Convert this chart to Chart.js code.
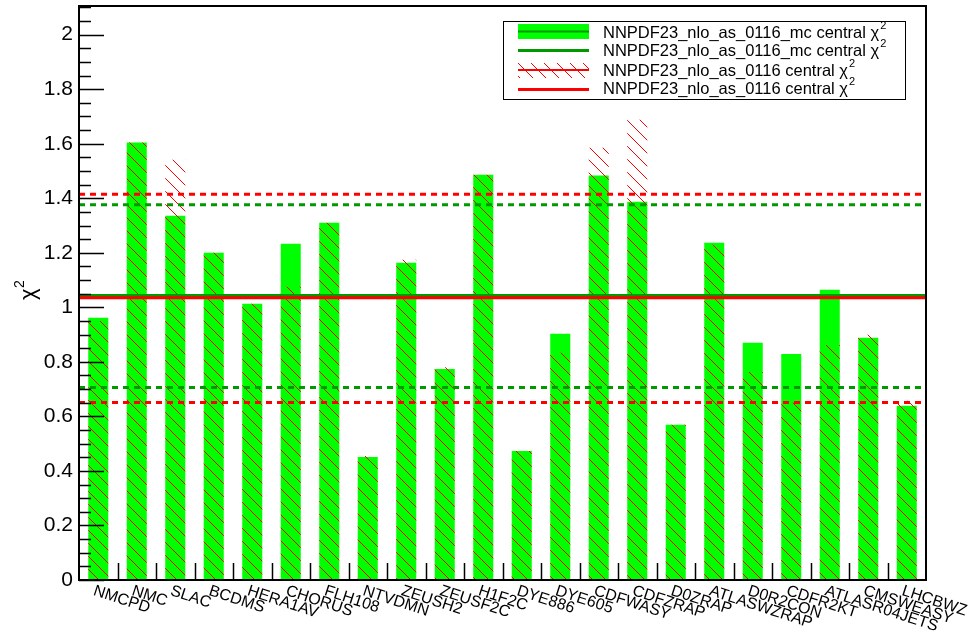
<!DOCTYPE html>
<html>
<head>
<meta charset="utf-8">
<script src="https://cdn.jsdelivr.net/npm/chart.js@4.4.0/dist/chart.umd.min.js"></script>
<style>
  html, body { margin: 0; padding: 0; background: #fff; }
  #chartBox { width: 969px; height: 634px; }
</style>
</head>
<body>
<div id="chartBox"><canvas id="chi2Chart" width="969" height="634"></canvas></div>
<script>
// data
const experiments = ['NMCPD', 'NMC', 'SLAC', 'BCDMS', 'HERA1AV', 'CHORUS', 'FLH108', 'NTVDMN',
  'ZEUSH2', 'ZEUSF2C', 'H1F2C', 'DYE886', 'DYE605', 'CDFWASY', 'CDFZRAP', 'D0ZRAP',
  'ATLASWZRAP', 'D0R2CON', 'CDFR2KT', 'ATLASR04JETS', 'CMSWEASY', 'LHCBWZ'];
const mcChi2 = [0.962, 1.604, 1.336, 1.200, 1.013, 1.233, 1.310, 0.451, 1.163, 0.774, 1.486,
  0.473, 0.903, 1.483, 1.387, 0.569, 1.237, 0.870, 0.829, 1.064, 0.888, 0.639];
const refChi2 = [0.950, 1.604, 1.541, 1.200, 1.013, 1.075, 1.310, 0.455, 1.174, 0.780, 1.486,
  0.473, 0.833, 1.585, 1.688, 0.569, 1.229, 0.763, 0.650, 0.862, 0.899, 0.657];
const mcTotal = 1.043;
const mcBand = [0.706, 1.376];
const refTotal = 1.035;
const refBand = [0.651, 1.415];
const yTicks = [0, 0.2, 0.4, 0.6, 0.8, 1, 1.2, 1.4, 1.6, 1.8, 2];
const yMax = 2.105;

const mcName = 'NNPDF23_nlo_as_0116_mc central \u03c7';
const refName = 'NNPDF23_nlo_as_0116 central \u03c7';
const barGreen = '#00ff00';
const lineGreen = '#009900';
const red = '#ff0000';
const font = '"Liberation Sans", Arial, Helvetica, sans-serif';

function makeHatch() {
  const size = 13;
  const tile = document.createElement('canvas');
  tile.width = size;
  tile.height = size;
  const tctx = tile.getContext('2d');
  tctx.fillStyle = red;
  for (let i = 0; i < size; i++) {
    tctx.fillRect(i, i, 1, 1);
  }
  return tctx.createPattern(tile, 'repeat');
}

const hatch = makeHatch();

function flatLine(value) {
  return [{ x: 0, y: value }, { x: experiments.length, y: value }];
}

function lineSet(value, color, dashed, order) {
  return {
    type: 'line',
    xAxisID: 'xl',
    data: flatLine(value),
    borderColor: color,
    borderWidth: 3,
    borderDash: dashed ? [6, 5] : [],
    pointRadius: 0,
    fill: false,
    order: order
  };
}

// text with a raised small "2", like ROOT's #chi^{2}
function drawChi2Text(ctx, text, x, y) {
  ctx.font = '16.5px ' + font;
  ctx.fillText(text, x, y);
  const w = ctx.measureText(text).width;
  ctx.font = '11px ' + font;
  ctx.fillText('2', x + w + 1, y - 7);
}

const rootFrame = {
  id: 'rootFrame',
  afterDraw(chart) {
    const { ctx, chartArea: area, scales } = chart;
    const x = scales.x;
    const y = scales.y;
    ctx.save();

    // frame
    ctx.strokeStyle = '#000';
    ctx.lineWidth = 2;
    ctx.strokeRect(area.left, area.top, area.right - area.left, area.bottom - area.top);

    // y ticks, major and minor
    ctx.lineWidth = 1.5;
    ctx.beginPath();
    for (let k = 0; k * 0.05 <= yMax; k++) {
      const py = Math.round(y.getPixelForValue(k * 0.05)) + 0.5;
      const len = k % 4 === 0 ? 25 : 12;
      ctx.moveTo(area.left, py);
      ctx.lineTo(area.left + len, py);
    }
    ctx.stroke();

    // x bin boundaries
    ctx.beginPath();
    for (let i = 1; i < experiments.length; i++) {
      const px = Math.round((x.getPixelForValue(i - 1) + x.getPixelForValue(i)) / 2) + 0.5;
      ctx.moveTo(px, area.bottom);
      ctx.lineTo(px, area.bottom - 17);
    }
    ctx.stroke();

    // slanted category labels
    ctx.fillStyle = '#000';
    ctx.font = '16px ' + font;
    ctx.textAlign = 'left';
    ctx.textBaseline = 'top';
    experiments.forEach((name, i) => {
      ctx.save();
      ctx.translate(x.getPixelForValue(i) - 2, area.bottom + 3);
      ctx.rotate(18 * Math.PI / 180);
      ctx.fillText(name, 0, 0);
      ctx.restore();
    });

    // y title
    ctx.save();
    ctx.textAlign = 'left';
    ctx.textBaseline = 'middle';
    ctx.translate(29, 300);
    ctx.rotate(-Math.PI / 2);
    ctx.font = '22px ' + font;
    ctx.fillText('\u03c7', 0, 0);
    ctx.font = '14px ' + font;
    ctx.fillText('2', 12, -9);
    ctx.restore();

    // legend box
    const lx = 503, ly = 21, lw = 402, lh = 78;
    ctx.fillStyle = '#fff';
    ctx.fillRect(lx, ly, lw, lh);
    ctx.strokeStyle = '#000';
    ctx.lineWidth = 1;
    ctx.strokeRect(lx + 0.5, ly + 0.5, lw, lh);

    const sx = 518, sw = 71;
    ctx.fillStyle = barGreen;
    ctx.fillRect(sx, 24, sw, 15);
    ctx.strokeStyle = lineGreen;
    ctx.lineWidth = 2;
    ctx.beginPath(); ctx.moveTo(sx, 31.5); ctx.lineTo(sx + sw, 31.5); ctx.stroke();

    ctx.lineWidth = 3;
    ctx.beginPath(); ctx.moveTo(sx, 50.5); ctx.lineTo(sx + sw, 50.5); ctx.stroke();

    ctx.fillStyle = hatch;
    ctx.fillRect(sx, 63, sw, 15);
    ctx.strokeStyle = red;
    ctx.lineWidth = 2;
    ctx.beginPath(); ctx.moveTo(sx, 70); ctx.lineTo(sx + sw, 70); ctx.stroke();

    ctx.lineWidth = 3;
    ctx.beginPath(); ctx.moveTo(sx, 89.5); ctx.lineTo(sx + sw, 89.5); ctx.stroke();

    ctx.fillStyle = '#000';
    ctx.textAlign = 'left';
    ctx.textBaseline = 'middle';
    drawChi2Text(ctx, mcName, 603, 33);
    drawChi2Text(ctx, mcName, 603, 51);
    drawChi2Text(ctx, refName, 603, 71);
    drawChi2Text(ctx, refName, 603, 89);

    ctx.restore();
  }
};

const chi2Chart = new Chart(document.querySelector('#chi2Chart'), {
  type: 'bar',
  data: {
    labels: experiments,
    datasets: [
      lineSet(refTotal, red, false, -3),
      lineSet(mcTotal, lineGreen, false, -2),
      lineSet(refBand[0], red, true, -1),
      lineSet(refBand[1], red, true, -1),
      lineSet(mcBand[0], lineGreen, true, -1),
      lineSet(mcBand[1], lineGreen, true, -1),
      {
        label: refName,
        data: refChi2,
        backgroundColor: hatch,
        borderWidth: 0,
        grouped: false,
        barPercentage: 0.52,
        categoryPercentage: 1,
        order: 0
      },
      {
        label: mcName,
        data: mcChi2,
        backgroundColor: barGreen,
        borderWidth: 0,
        grouped: false,
        barPercentage: 0.52,
        categoryPercentage: 1,
        order: 1
      }
    ]
  },
  options: {
    responsive: false,
    animation: false,
    devicePixelRatio: 1,
    layout: { padding: { top: 6, right: 43, left: 0, bottom: 0 } },
    plugins: {
      legend: { display: false },
      tooltip: { enabled: false }
    },
    scales: {
      x: {
        type: 'category',
        offset: true,
        grid: { display: false, drawTicks: false },
        border: { display: false },
        ticks: { display: false },
        afterFit: scale => { scale.height = 54; }
      },
      xl: {
        type: 'linear',
        display: false,
        offset: false,
        min: 0,
        max: experiments.length
      },
      y: {
        min: 0,
        max: yMax,
        grid: { display: false, drawTicks: false },
        border: { display: false },
        ticks: {
          color: '#000',
          padding: 6,
          font: { size: 21, family: font },
          callback: value => String(value)
        },
        afterBuildTicks: scale => { scale.ticks = yTicks.map(v => ({ value: v })); },
        afterFit: scale => {
          scale.width = 79;
          scale.paddingTop = 0;
          scale.paddingBottom = 0;
        }
      }
    }
  },
  plugins: [rootFrame]
});
</script>
</body>
</html>
